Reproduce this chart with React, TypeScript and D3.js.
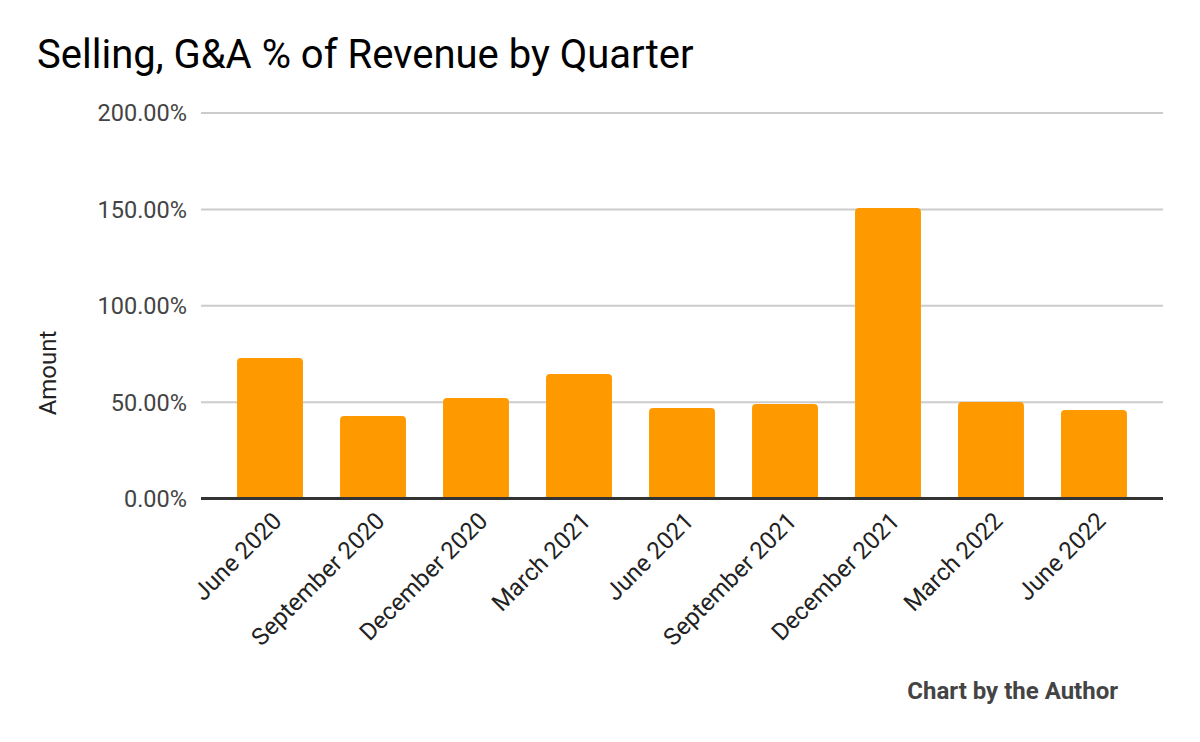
import React from "react";
import * as d3 from "d3";

const categories = [
  "June 2020",
  "September 2020",
  "December 2020",
  "March 2021",
  "June 2021",
  "September 2021",
  "December 2021",
  "March 2022",
  "June 2022",
];
const values = [72.9, 42.8, 52.1, 64.6, 47.0, 49.0, 150.7, 50.1, 45.9];
const yTicks = [0, 50, 100, 150, 200];

const W = 1200;
const H = 742;
const left = 201;
const right = 1163;
const top = 113;
const bottom = 498.5;

function roundedTopRect(x: number, y: number, w: number, h: number, r: number) {
  const rr = Math.min(r, h / 2, w / 2);
  return `M${x},${y + h}V${y + rr}Q${x},${y} ${x + rr},${y}H${x + w - rr}Q${x + w},${y} ${x + w},${y + rr}V${y + h}Z`;
}

export default function App() {
  const x = d3
    .scaleBand<string>()
    .domain(categories)
    .range([left, right])
    .paddingInner(0.36)
    .paddingOuter(0.35);
  const y = d3.scaleLinear().domain([0, 200]).range([bottom, top]);
  const font = "Roboto, 'Noto Sans', sans-serif";

  return (
    <svg
      width={W}
      height={H}
      style={{ position: "absolute", left: 0, top: 0, background: "#fff" }}
      fontFamily={font}
    >
      <text x={37} y={68} fontSize={40} fill="#000">
        Selling, G&amp;A % of Revenue by Quarter
      </text>
      {yTicks.map((t) => (
        <g key={t}>
          {t !== 0 && (
            <line x1={left} x2={right} y1={y(t)} y2={y(t)} stroke="#cccccc" strokeWidth={2} />
          )}
          <text
            x={187}
            y={y(t)}
            dy="0.36em"
            textAnchor="end"
            fontSize={23.5}
            fill="#444"
          >
            {t.toFixed(2)}%
          </text>
        </g>
      ))}
      {categories.map((c, i) => (
        <path
          key={c}
          d={roundedTopRect(x(c)!, y(values[i]), x.bandwidth(), bottom - y(values[i]), 4)}
          fill="#ff9900"
        />
      ))}
      <line x1={left} x2={right} y1={bottom} y2={bottom} stroke="#333" strokeWidth={3} />
      {categories.map((c) => {
        const cx = x(c)! + x.bandwidth() / 2;
        return (
          <text
            key={c + "l"}
            transform={`translate(${cx + 13},${bottom + 24}) rotate(-45)`}
            textAnchor="end"
            fontSize={24}
            fill="#222"
          >
            {c}
          </text>
        );
      })}
      <text
        transform={`translate(56,373) rotate(-90)`}
        textAnchor="middle"
        fontSize={24}
        fill="#222"
      >
        Amount
      </text>
      <text x={1118} y={699} textAnchor="end" fontSize={24} fontWeight="bold" fill="#444">
        Chart by the Author
      </text>
    </svg>
  );
}
